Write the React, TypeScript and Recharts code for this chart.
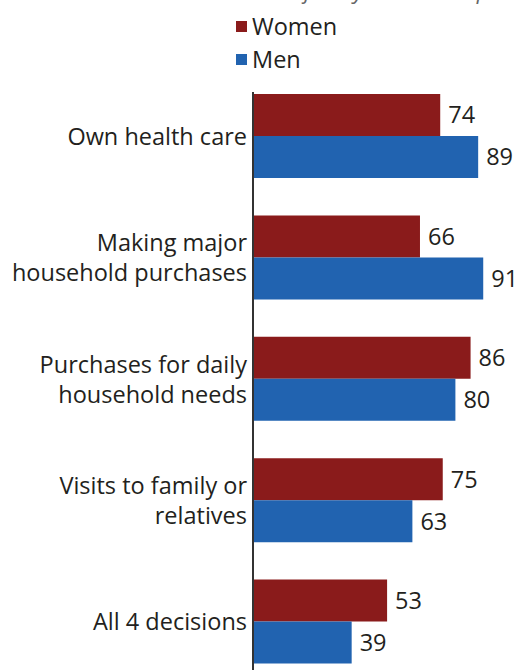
import React from 'react';
import { BarChart, Bar, XAxis, YAxis, LabelList } from 'recharts';

const categories = [
  'Own health care',
  'Making major\nhousehold purchases',
  'Purchases for daily\nhousehold needs',
  'Visits to family or\nrelatives',
  'All 4 decisions',
];
const women = [74, 66, 86, 75, 53];
const men = [89, 91, 80, 63, 39];

const WOMEN_COLOR = '#8a1b1b';
const MEN_COLOR = '#2163b0';
const TEXT_COLOR = '#231f20';
const FONT = '"Open Sans", sans-serif';

const data = categories.map((name, i) => ({ name, women: women[i], men: men[i] }));

// Multi-line category label, right aligned next to the axis
const CategoryTick = ({ x, y, payload }: any) => {
  const lines = String(payload.value).split('\n');
  const lineHeight = 30;
  const startY = y - ((lines.length - 1) * lineHeight) / 2;
  return (
    <text x={x} y={startY} textAnchor="end" fill={TEXT_COLOR} fontSize={23.5} fontFamily={FONT}>
      {lines.map((line, i) => (
        <tspan key={i} x={x} y={startY + i * lineHeight} dominantBaseline="central">
          {line}
        </tspan>
      ))}
    </text>
  );
};

export default function App() {
  return (
    <div style={{ position: 'relative', width: 514, height: 670, overflow: 'hidden', fontFamily: FONT }}>
      <style>{'body{margin:0}'}</style>
      {/* title line, cut off at the top of the picture */}
      <svg width={514} height={12} style={{ position: 'absolute', left: 0, top: 0 }}>
        <text x={18} y={-1} fontSize={22} fontStyle="italic" fill="#666" fontFamily={FONT}>
          who make decisions alone or jointly with their spouse
        </text>
      </svg>
      {/* legend */}
      <div style={{ position: 'absolute', left: 236, top: 10, color: TEXT_COLOR, fontSize: 23.5, lineHeight: '33px' }}>
        <div style={{ display: 'flex', alignItems: 'center' }}>
          <span style={{ width: 11, height: 11, background: WOMEN_COLOR, marginRight: 5, display: 'inline-block' }} />
          Women
        </div>
        <div style={{ display: 'flex', alignItems: 'center' }}>
          <span style={{ width: 11, height: 11, background: MEN_COLOR, marginRight: 5, display: 'inline-block' }} />
          Men
        </div>
      </div>
      <div style={{ position: 'absolute', left: 0, top: 0 }}>
        <BarChart
          width={514}
          height={700}
          data={data}
          layout="vertical"
          margin={{ top: 92, right: 8, left: 0, bottom: 18 }}
          barGap={0}
          barSize={42}
        >
          <XAxis type="number" domain={[0, 100]} hide />
          <YAxis
            type="category"
            dataKey="name"
            width={253}
            padding={{ top: -17, bottom: 0 }}
            axisLine={{ stroke: '#333', strokeWidth: 2 }}
            tickLine={false}
            tickSize={0}
            tickMargin={6}
            interval={0}
            tick={<CategoryTick />}
          />
          <Bar dataKey="women" fill={WOMEN_COLOR} isAnimationActive={false}>
            <LabelList dataKey="women" position="right" offset={8} fill={TEXT_COLOR} fontSize={23.5} fontFamily={FONT} />
          </Bar>
          <Bar dataKey="men" fill={MEN_COLOR} isAnimationActive={false}>
            <LabelList dataKey="men" position="right" offset={8} fill={TEXT_COLOR} fontSize={23.5} fontFamily={FONT} />
          </Bar>
        </BarChart>
      </div>
    </div>
  );
}
